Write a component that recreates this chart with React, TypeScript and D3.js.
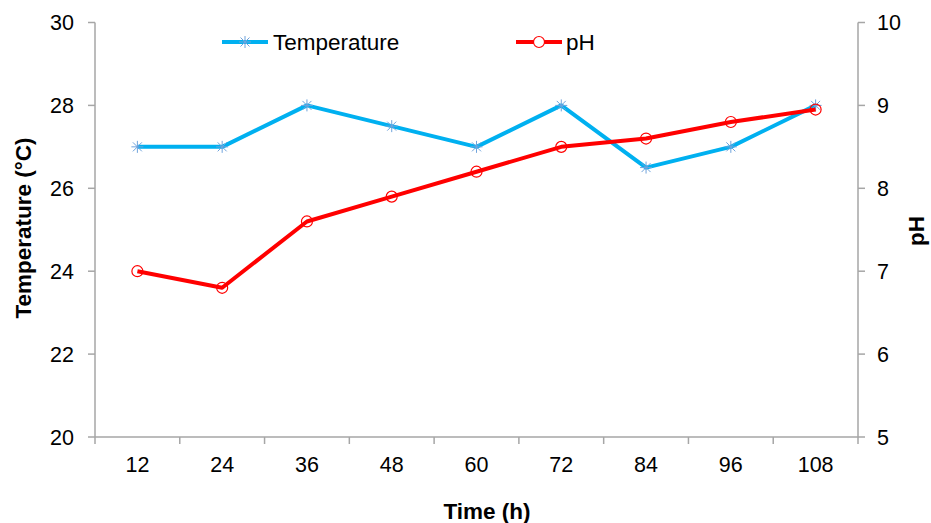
import React from 'react';
import * as d3 from 'd3';

const times = [12, 24, 36, 48, 60, 72, 84, 96, 108];
const temperature = [27, 27, 28, 27.5, 27, 28, 26.5, 27, 28];
const ph = [7, 6.8, 7.6, 7.9, 8.2, 8.5, 8.6, 8.8, 8.95];
const tempTicks = [20, 22, 24, 26, 28, 30];
const phTicks = [5, 6, 7, 8, 9, 10];

const W = 931;
const H = 523;
const left = 95;
const right = 858;
const top = 22.5;
const bottom = 437;

export default function App() {
    const x = d3.scaleBand<number>().domain(times).range([left, right]);
    const yT = d3.scaleLinear().domain([20, 30]).range([bottom, top]);
    const yP = d3.scaleLinear().domain([5, 10]).range([bottom, top]);
    const cx = (t: number) => (x(t) as number) + x.bandwidth() / 2;

    const tempLine = d3.line<number>().x((d, i) => cx(times[i])).y(d => yT(d));
    const phLine = d3.line<number>().x((d, i) => cx(times[i])).y(d => yP(d));

    const font = 'Liberation Sans, Arial, sans-serif';
    const fs = 21.5;
    const fsBig = 22.5;
    const axisColor = '#a6a6a6';
    const blue = '#00b0f0';
    const starColor = '#6fa3dc';
    const red = '#ff0000';

    const star = (px: number, py: number, k: string) => (
        <g key={k} stroke={starColor} strokeWidth={1}>
            <line x1={px - 6} y1={py} x2={px + 6} y2={py} />
            <line x1={px} y1={py - 6} x2={px} y2={py + 6} />
            <line x1={px - 4.5} y1={py - 4.5} x2={px + 4.5} y2={py + 4.5} />
            <line x1={px - 4.5} y1={py + 4.5} x2={px + 4.5} y2={py - 4.5} />
        </g>
    );

    return (
        <svg width={W} height={H} style={{ position: 'absolute', left: 0, top: 0 }} fontFamily={font}>
            <rect width={W} height={H} fill="white" />
            {/* axes */}
            <line x1={left} y1={top} x2={left} y2={bottom} stroke={axisColor} strokeWidth={1.5} />
            <line x1={right} y1={top} x2={right} y2={bottom} stroke={axisColor} strokeWidth={1.5} />
            <line x1={left} y1={bottom} x2={right} y2={bottom} stroke={axisColor} strokeWidth={1.5} />
            {tempTicks.map(t => (
                <g key={'lt' + t}>
                    <line x1={left - 7} x2={left} y1={yT(t)} y2={yT(t)} stroke={axisColor} strokeWidth={1.5} />
                    <text x={74} y={yT(t)} dy="0.35em" textAnchor="end" fontSize={fs}>{t}</text>
                </g>
            ))}
            {phTicks.map(t => (
                <g key={'rt' + t}>
                    <line x1={right} x2={right + 7} y1={yP(t)} y2={yP(t)} stroke={axisColor} strokeWidth={1.5} />
                    <text x={877} y={yP(t)} dy="0.35em" textAnchor="start" fontSize={fs}>{t}</text>
                </g>
            ))}
            {d3.range(times.length + 1).map(i => {
                const xx = left + i * x.step();
                return <line key={'xt' + i} x1={xx} x2={xx} y1={bottom} y2={bottom + 7} stroke={axisColor} strokeWidth={1.5} />;
            })}
            {times.map(t => (
                <text key={'xl' + t} x={cx(t)} y={464} dy="0.35em" textAnchor="middle" fontSize={fs}>{t}</text>
            ))}
            {/* titles */}
            <text transform="translate(31,228) rotate(-90)" textAnchor="middle" fontSize={fsBig} fontWeight="bold">Temperature (°C)</text>
            <text transform="translate(924,231) rotate(-90)" textAnchor="middle" fontSize={fsBig} fontWeight="bold">pH</text>
            <text x={487} y={519} textAnchor="middle" fontSize={fsBig} fontWeight="bold">Time (h)</text>
            {/* series */}
            <path d={tempLine(temperature) || ''} fill="none" stroke={blue} strokeWidth={4} strokeLinejoin="round" />
            {temperature.map((v, i) => star(cx(times[i]), yT(v), 's' + i))}
            <path d={phLine(ph) || ''} fill="none" stroke={red} strokeWidth={4} strokeLinejoin="round" />
            {ph.map((v, i) => (
                <circle key={'c' + i} cx={cx(times[i])} cy={yP(v)} r={5.5} fill="none" stroke={red} strokeWidth={1.2} />
            ))}
            {/* legend */}
            <line x1={222} x2={268} y1={42} y2={42} stroke={blue} strokeWidth={4} />
            {star(245, 42, 'ls')}
            <text x={273} y={42} dy="0.35em" fontSize={fsBig}>Temperature</text>
            <line x1={516} x2={562} y1={42} y2={42} stroke={red} strokeWidth={4} />
            <circle cx={539} cy={42} r={5.5} fill="white" stroke={red} strokeWidth={1.2} />
            <text x={566} y={42} dy="0.35em" fontSize={fsBig}>pH</text>
        </svg>
    );
}
